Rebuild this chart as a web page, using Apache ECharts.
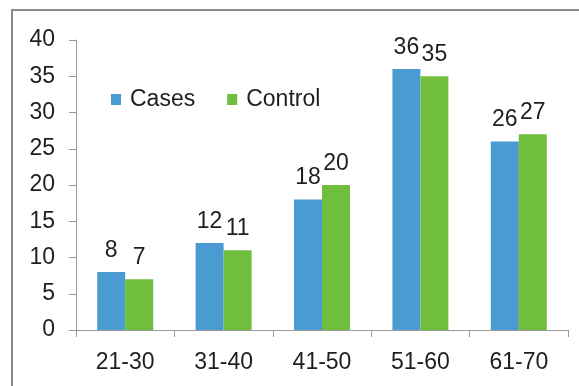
<!DOCTYPE html>
<html>
<head>
<meta charset="utf-8">
<style>
  html, body { margin: 0; padding: 0; background: #ffffff; }
  #chart { width: 579px; height: 386px; }
</style>
<script src="https://cdn.jsdelivr.net/npm/echarts@6/dist/echarts.min.js"></script>
</head>
<body>
<div id="chart"></div>
<script>
// Age groups and counts per group
const ageGroups = ['21-30', '31-40', '41-50', '51-60', '61-70'];
const casesValues = [8, 12, 18, 36, 26];
const controlValues = [7, 11, 20, 35, 27];
const yTicks = { min: 0, max: 40, step: 5 };

const FONT = '"Liberation Sans", Arial, sans-serif';
const TEXT = '#1e1e1e';
const AXIS = '#9a9a9a';
const FS = 23;

const chart = echarts.init(document.getElementById('chart'), null, { renderer: 'canvas' });

const valueLabel = {
  show: true,
  position: 'top',
  distance: 10,
  color: TEXT,
  fontFamily: FONT,
  fontSize: FS
};

chart.setOption({
  animation: false,
  backgroundColor: '#ffffff',
  textStyle: { fontFamily: FONT },
  grid: { left: 76, right: 11, top: 40, bottom: 56, containLabel: false },
  legend: {
    left: 106,
    top: 83,
    itemWidth: 10,
    itemHeight: 11,
    itemGap: 32,
    icon: 'rect',
    textStyle: { color: TEXT, fontFamily: FONT, fontSize: FS, padding: [0, 0, 0, 4] },
    data: ['Cases', 'Control']
  },
  xAxis: {
    type: 'category',
    data: ageGroups,
    boundaryGap: true,
    axisLine: { show: true, lineStyle: { color: AXIS, width: 1 } },
    axisTick: { show: true, length: 7, lineStyle: { color: AXIS } },
    axisLabel: { color: TEXT, fontFamily: FONT, fontSize: FS, margin: 21 },
    splitLine: { show: false }
  },
  yAxis: {
    type: 'value',
    min: yTicks.min,
    max: yTicks.max,
    interval: yTicks.step,
    axisLine: { show: true, lineStyle: { color: AXIS, width: 1 } },
    axisTick: { show: true, length: 7, lineStyle: { color: AXIS } },
    axisLabel: { color: TEXT, fontFamily: FONT, fontSize: FS, margin: 21 },
    splitLine: { show: false }
  },
  series: [
    {
      name: 'Cases',
      type: 'bar',
      data: casesValues,
      barWidth: 28,
      barGap: '0%',
      itemStyle: { color: '#4A9BD1' },
      label: valueLabel
    },
    {
      name: 'Control',
      type: 'bar',
      data: controlValues,
      barWidth: 28,
      barGap: '0%',
      itemStyle: { color: '#6FBF3C' },
      label: valueLabel
    }
  ],
  graphic: [
    // frame: top and left border lines
    {
      type: 'line',
      shape: { x1: 11, y1: 10, x2: 579, y2: 10 },
      style: { stroke: '#8a8a8a', lineWidth: 2 },
      silent: true
    },
    {
      type: 'line',
      shape: { x1: 12, y1: 10, x2: 12, y2: 386 },
      style: { stroke: '#8a8a8a', lineWidth: 2 },
      silent: true
    }
  ]
});
</script>
</body>
</html>
